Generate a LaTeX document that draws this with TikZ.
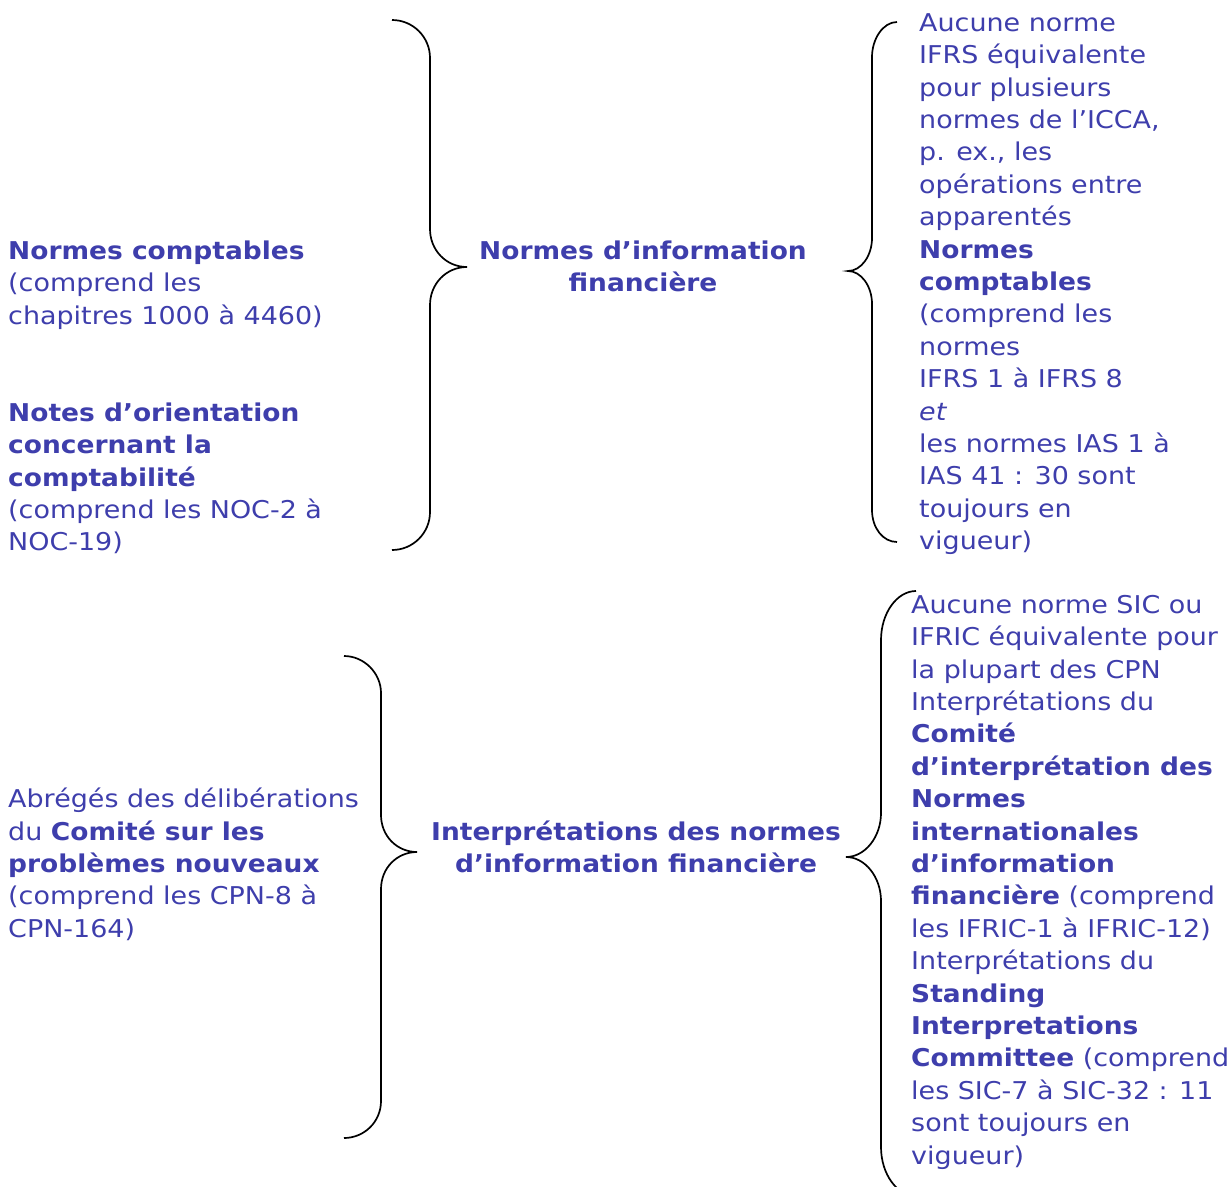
\documentclass[tikz,border=0pt]{standalone}
\usepackage{fontspec}
\setmainfont{DejaVu Sans}[UprightFeatures={FakeStretch=1.10},BoldFont={DejaVu Sans Bold},BoldFeatures={FakeStretch=1.08},ItalicFont={DejaVu Sans Oblique},ItalicFeatures={FakeStretch=1.10}]
\definecolor{txtblue}{RGB}{62,62,172}
\newcommand{\fs}{\fontsize{24.5}{32.4}\selectfont}
\newcommand{\fst}{\rule{0pt}{24pt}}
\tikzset{
  txtl/.style={anchor=north west,inner sep=0pt,align=left,font=\fs,text=txtblue},
  txtc/.style={anchor=north,inner sep=0pt,align=center,font=\fs,text=txtblue},
  braceline/.style={draw=black,line width=1.7pt}
}
\begin{document}
\begin{tikzpicture}[x=1pt,y=-1pt]
\useasboundingbox (0,0) rectangle (1230,1186);
\clip (0,0) rectangle (1230,1186);

% text blocks (first baseline minus 24)
\node[txtl] (nc) at (8,235) {\fst\textbf{Normes comptables}\\(comprend les\\chapitres 1000 à 4460)};
\node[txtl] (noc) at (8,397) {\fst\textbf{Notes d’orientation}\\\textbf{concernant la}\\\textbf{comptabilité}\\(comprend les NOC-2 à\\NOC-19)};
\node[txtc] (nif) at (643,235) {\fst\textbf{Normes d’information}\\\textbf{financière}};
\node[txtl] (ifrs) at (919,7) {\fst Aucune norme\\IFRS équivalente\\pour plusieurs\\normes de l’ICCA,\\p. ex., les\\opérations entre\\apparentés\\\textbf{Normes}\\\textbf{comptables}\\(comprend les\\normes\\IFRS 1 à IFRS 8\\\textit{et}\\les normes IAS 1 à\\IAS 41 : 30 sont\\toujours en\\vigueur)};

\node[txtl] (cpn) at (8,783.4) {\fst Abrégés des délibérations\\du \textbf{Comité sur les}\\\textbf{problèmes nouveaux}\\(comprend les CPN-8 à\\CPN-164)};
\node[txtc] (inif) at (636,815.8) {\fst\textbf{Interprétations des normes}\\\textbf{d’information financière}};
\node[txtl] (ific) at (911,589) {\fst Aucune norme SIC ou\\IFRIC équivalente pour\\la plupart des CPN\\Interprétations du\\\textbf{Comité}\\\textbf{d’interprétation des}\\\textbf{Normes}\\\textbf{internationales}\\\textbf{d’information}\\\textbf{financière} (comprend\\les IFRIC-1 à IFRIC-12)\\Interprétations du\\\textbf{Standing}\\\textbf{Interpretations}\\\textbf{Committee} (comprend\\les SIC-7 à SIC-32 : 11\\sont toujours en\\vigueur)};

% braces
\path[braceline] (392,20) .. controls (413,20) and (430,37) .. (430,58) -- (430,229)
  .. controls (430,250) and (446,267) .. (467,267)
  .. controls (446,267) and (430,284) .. (430,305) -- (430,512)
  .. controls (430,533) and (413,550) .. (392,550);
\path[braceline] (897,22) .. controls (883,22) and (872,39) .. (872,57) -- (872,238)
  .. controls (872,256) and (861,271) .. (848,271)
  .. controls (861,271) and (872,286) .. (872,304) -- (872,510)
  .. controls (872,528) and (883,542) .. (897,542);
\path[braceline] (344,656) .. controls (364,656) and (381,673) .. (381,693) -- (381,815)
  .. controls (381,836) and (397,852) .. (417,852)
  .. controls (397,852) and (381,868) .. (381,889) -- (381,1101)
  .. controls (381,1122) and (364,1138) .. (344,1138);
\path[braceline] (916,591) .. controls (897,591) and (881,613) .. (881,640) -- (881,813)
  .. controls (881,837) and (865,857) .. (846,857)
  .. controls (865,857) and (881,877) .. (881,901) -- (881,1147)
  .. controls (881,1174) and (897,1196) .. (916,1196);
\end{tikzpicture}
\end{document}
